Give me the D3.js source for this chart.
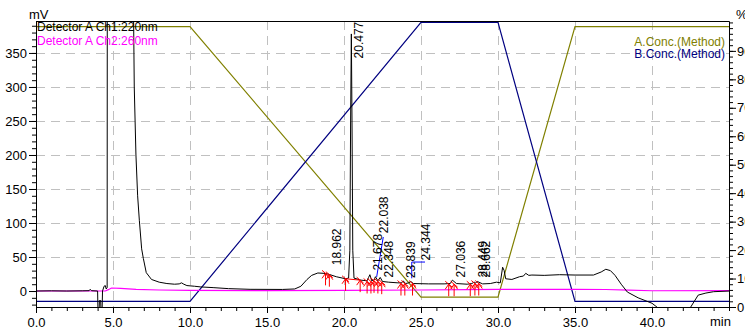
<!DOCTYPE html>
<html>
<head>
<meta charset="utf-8">
<script src="https://cdn.jsdelivr.net/npm/d3@7"></script>
<style>
  body { margin: 0; background: #fff; }
  text { font-family: "Liberation Sans", Arial, sans-serif; }
</style>
</head>
<body>
<div id="chart"></div>
<script>
// Detector A Ch1:220nm  [min, mV]
const ch1 = [[0,0],[1,0.3],[2,0],[3,0.3],[3.45,0.5],[3.52,2.5],[3.6,0.5],[4.0,0],[4.05,-60],[4.12,-14],[4.2,-14],[4.26,-60],[4.32,0],
  [4.42,7],[4.5,8],[4.56,3],[4.62,5],[4.65,1500],[6.3,1500],[6.33,420],[6.38,300],[6.49,200],[6.6,140],[6.71,104],[6.86,62],
  [6.97,48],[7.16,27],[7.5,17],[8.0,13],[8.5,11],[9.0,10],[9.3,10.5],[9.45,12],[9.6,10],[9.8,8],[10.3,7],[10.7,6],[11.5,5],
  [12.5,3.5],[13.9,2.5],[15,2.4],[16,2.3],[16.8,3],[17.2,7],[17.6,17],[17.9,23],[18.3,26.5],[18.7,26],[18.96,25],[19.5,21],
  [20.1,18],[20.3,19],[20.38,60],[20.43,250],[20.477,378],[20.52,250],[20.57,60],[20.65,19],[21.1,16],[21.5,15],[21.6,20],
  [21.68,24],[21.8,15],[21.95,16],[22.04,21],[22.2,15],[22.35,20],[22.5,14],[22.9,13],[23.5,12],[23.75,12],[23.84,15],[24.0,11],
  [24.2,12],[24.34,14],[24.5,11],[25.5,10.5],[26.5,10.5],[26.9,11],[27.04,16],[27.3,11],[28.0,10],[28.3,11],[28.45,13],[28.55,12],
  [28.66,14],[29.0,10.5],[29.5,11],[29.9,13],[30.15,12],[30.3,35],[30.4,30],[30.5,18],[30.9,17],[31.4,21],[31.65,22],[31.8,26],
  [32.0,23],[32.2,23.5],[33,23],[34,24],[35,23.5],[36.2,23.5],[36.7,28],[37.0,32],[37.3,30],[37.6,23],[38.0,10],[38.4,-1.5],
  [39.1,-10],[40.0,-18],[40.4,-25],[40.6,-40],[42.3,-40],[42.5,-24],[43.0,-6],[43.5,-3],[44,-1],[45,0]];

// Detector A Ch2:260nm  [min, mV]
const ch2 = [[0,0],[4.5,0],[4.7,2],[4.9,4.4],[5.5,4],[6.5,2.5],[8,1.5],[10,0.8],[15,0.5],[20,1],[25,1.5],[28,2],[30,2.5],
  [35,2.5],[37,2.2],[38.5,1.2],[40,0.4],[45,0.5]];

// gradient program
const gradTime = [0, 10, 25, 30, 35, 45];
const concA = [98.5, 98.5, 3.5, 3.5, 98.5, 98.5];
const concB = [2, 2, 100, 100, 2, 2];

// peak labels: text, anchor [min, mV]
const peakLabels = ['18.962', '20.477', '21.678', '22.038', '22.348', '23.839', '24.344', '27.036', '28.449', '28.662'];
const labelAt = [[19.81, 38], [21.23, 342], [22.45, 30], [22.86, 85], [23.18, 20], [24.6, 19], [25.58, 45], [27.86, 20], [29.29, 20], [29.48, 20]];
const leaders = [[[22.12, 20.6], [22.55, 79.4]], [[24.4, 18.7], [24.4, 42.6], [25.26, 42.6]]];

// peak start / end marks [min, mV]
const marks = [[18.8, 26], [19.05, 24], [20.1, 18], [21.05, 16], [21.5, 14], [21.75, 14], [21.95, 15], [22.2, 14], [22.45, 13],
  [23.7, 11], [23.95, 11], [24.45, 11], [26.8, 10], [27.15, 10], [28.2, 10], [28.5, 11], [28.75, 11]];
const baselines = [[[20.1, 18], [21.05, 16]]];

const xTicks = d3.range(0, 41, 5);
const mvTicks = d3.range(0, 351, 50);
const pctTicks = d3.range(0, 91, 10);

const W = 745, H = 329;
const mLeft = 36, mRight = 729, mTop = 21, mBottom = 307;

const svg = d3.select('#chart').append('svg')
  .attr('width', W).attr('height', H);

const x = d3.scaleLinear().domain([0, 45]).range([mLeft, mRight]);
const y = d3.scaleLinear().domain([-23.5, 397]).range([mBottom, mTop]);
const yp = d3.scaleLinear().domain([0, 100.5]).range([mBottom, mTop]);

svg.append('clipPath').attr('id', 'plot')
  .append('rect').attr('x', mLeft).attr('y', mTop).attr('width', mRight - mLeft).attr('height', mBottom - mTop);

// grid
const grid = svg.append('g').attr('stroke', '#c0c0c0').attr('stroke-dasharray', '9,6');
grid.selectAll('.vg').data(xTicks.filter(d => d > 0)).enter().append('line')
  .attr('x1', d => Math.round(x(d)) + 0.5).attr('x2', d => Math.round(x(d)) + 0.5)
  .attr('y1', mTop).attr('y2', mBottom);
grid.selectAll('.hg').data(mvTicks.filter(d => d > 0)).enter().append('line')
  .attr('y1', d => Math.round(y(d)) + 0.5).attr('y2', d => Math.round(y(d)) + 0.5)
  .attr('x1', mLeft).attr('x2', mRight);

const plot = svg.append('g').attr('clip-path', 'url(#plot)');

// gradient lines
const gradLine = (vals) => d3.line().x((d, i) => x(gradTime[i])).y(d => yp(d))(vals);
plot.append('path').attr('d', gradLine(concA)).attr('fill', 'none').attr('stroke', '#808000').attr('stroke-width', 1.2);
plot.append('path').attr('d', gradLine(concB)).attr('fill', 'none').attr('stroke', '#000080').attr('stroke-width', 1.2);

// traces
const trace = d3.line().x(d => x(d[0])).y(d => y(d[1]));
plot.append('path').datum(ch2).attr('d', trace).attr('fill', 'none').attr('stroke', '#ff00ff').attr('stroke-width', 1.2);
plot.append('path').datum(ch1).attr('d', trace).attr('fill', 'none').attr('stroke', '#000').attr('stroke-width', 1);

// integration baselines + marks
plot.selectAll('.bl').data(baselines).enter().append('path')
  .attr('d', d3.line().x(d => x(d[0])).y(d => y(d[1])))
  .attr('fill', 'none').attr('stroke', '#ff0000');
plot.selectAll('.mk').data(marks).enter().append('path')
  .attr('d', d => {
    const px = x(d[0]), py = y(d[1]);
    return `M${px},${py}L${px},${py + 12}M${px - 3.5},${py + 5}L${px},${py}L${px + 3.5},${py + 5}M${px - 3.5},${py - 3}L${px + 3.5},${py + 3}`;
  })
  .attr('fill', 'none').attr('stroke', '#ff0000').attr('stroke-width', 1);

// leader lines
plot.selectAll('.ld').data(leaders).enter().append('path')
  .attr('d', d3.line().x(d => x(d[0])).y(d => y(d[1])))
  .attr('fill', 'none').attr('stroke', '#0000ff');

// peak labels
svg.selectAll('.pl').data(peakLabels).enter().append('text')
  .attr('transform', (d, i) => `translate(${x(labelAt[i][0])},${y(labelAt[i][1])}) rotate(-90)`)
  .attr('font-size', 12).attr('fill', '#000')
  .text(d => d);

// axes
const axisStyle = g => {
  g.selectAll('path.domain').attr('stroke', '#000');
  g.selectAll('line').attr('stroke', '#000');
  g.selectAll('text').attr('font-size', 13).attr('fill', '#000')
    .attr('font-family', '"Liberation Sans", Arial, sans-serif');
};

svg.append('g').attr('transform', `translate(0,${mBottom})`)
  .call(d3.axisBottom(x).tickValues(d3.range(0, 46, 1)).tickFormat('').tickSize(4).tickSizeOuter(0)).call(axisStyle);
svg.append('g').attr('transform', `translate(0,${mBottom})`)
  .call(d3.axisBottom(x).tickValues(xTicks).tickFormat(d3.format('.1f')).tickSize(6).tickPadding(5).tickSizeOuter(0)).call(axisStyle);

svg.append('g').attr('transform', `translate(${mLeft},0)`)
  .call(d3.axisLeft(y).tickValues(d3.range(-20, 391, 10)).tickFormat('').tickSize(4).tickSizeOuter(0)).call(axisStyle);
svg.append('g').attr('transform', `translate(${mLeft},0)`)
  .call(d3.axisLeft(y).tickValues(mvTicks).tickFormat(d3.format('d')).tickSize(7).tickPadding(2).tickSizeOuter(0)).call(axisStyle);

svg.append('g').attr('transform', `translate(${mRight},0)`)
  .call(d3.axisRight(yp).tickValues(d3.range(0, 101, 2)).tickFormat('').tickSize(4).tickSizeOuter(0)).call(axisStyle);
svg.append('g').attr('transform', `translate(${mRight},0)`)
  .call(d3.axisRight(yp).tickValues(pctTicks).tickFormat(d3.format('d')).tickSize(7).tickPadding(1).tickSizeOuter(0)).call(axisStyle);

// top frame
svg.append('line').attr('x1', mLeft).attr('x2', mRight).attr('y1', mTop + 0.5).attr('y2', mTop + 0.5).attr('stroke', '#000');

// units
svg.append('text').attr('x', 29).attr('y', 19).attr('font-size', 13).text('mV');
svg.append('text').attr('x', 736).attr('y', 19).attr('font-size', 13).text('%');
svg.append('text').attr('x', 710).attr('y', 326).attr('font-size', 13).text('min');

// legends
svg.append('text').attr('x', 37).attr('y', 31).attr('font-size', 12).attr('fill', '#000').text('Detector A Ch1:220nm');
svg.append('text').attr('x', 37).attr('y', 45).attr('font-size', 12).attr('fill', '#ff00ff').text('Detector A Ch2:260nm');
svg.append('text').attr('x', 725).attr('y', 46).attr('font-size', 12).attr('text-anchor', 'end').attr('fill', '#808000').text('A.Conc.(Method)');
svg.append('text').attr('x', 725).attr('y', 58).attr('font-size', 12).attr('text-anchor', 'end').attr('fill', '#000080').text('B.Conc.(Method)');
</script>
</body>
</html>
